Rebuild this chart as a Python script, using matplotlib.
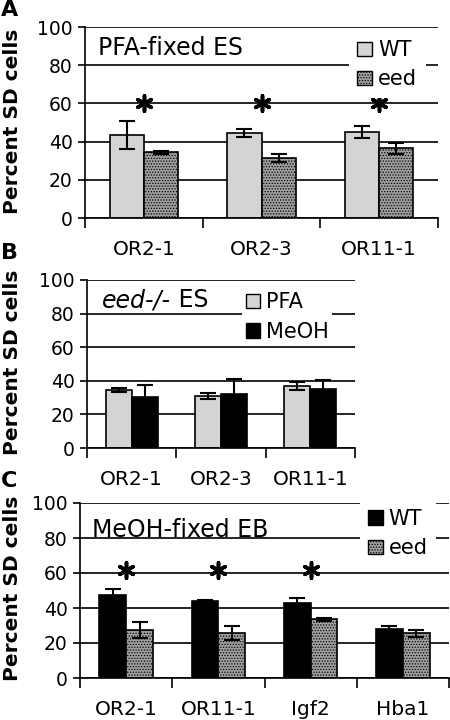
import matplotlib
matplotlib.use("Agg")
import matplotlib.pyplot as plt
from matplotlib.patches import Patch
import numpy as np

plt.rcParams['font.family'] = ['DejaVu Sans']
plt.rcParams['hatch.linewidth'] = 0.6

# panel A: PFA-fixed ES
genes_a = ["OR2-1", "OR2-3", "OR11-1"]
wt_a = [43.5, 44.5, 45.0]
wt_a_err = [7.5, 2.0, 3.0]
eed_a = [34.5, 31.5, 36.5]
eed_a_err = [0.8, 2.0, 3.0]
star_a = [True, True, True]
star_a_y = 60

# panel B: eed-/- ES
genes_b = ["OR2-1", "OR2-3", "OR11-1"]
pfa_b = [34.5, 31.0, 37.0]
pfa_b_err = [1.0, 2.0, 2.5]
meoh_b = [30.5, 32.0, 35.0]
meoh_b_err = [7.0, 9.0, 5.5]

# panel C: MeOH-fixed EB
genes_c = ["OR2-1", "OR11-1", "Igf2", "Hba1"]
wt_c = [47.5, 44.0, 43.0, 28.0]
wt_c_err = [3.5, 0.4, 2.5, 2.0]
eed_c = [27.5, 26.0, 33.5, 25.5]
eed_c_err = [4.5, 4.0, 1.0, 2.0]
star_c = [True, True, True, False]
star_c_y = 62

STYLES = {
    "light": dict(facecolor="#d4d4d4", hatch=None),
    "black": dict(facecolor="black", hatch=None),
    "dots": dict(facecolor="#a0a0a0", hatch="......"),
}
W = 0.29


def bars(ax, x, vals, err, style):
    st = STYLES[style]
    ax.bar(x, vals, W, facecolor=st["facecolor"], edgecolor="black",
           hatch=st["hatch"], linewidth=1.2, zorder=2)
    ax.errorbar(x, vals, yerr=err, fmt="none", ecolor="black",
                elinewidth=1.5, capsize=6, capthick=1.5, zorder=3)


def setup(ax, labels):
    n = len(labels)
    ax.set_xlim(-0.5, n - 0.5)
    ax.set_ylim(0, 100)
    ax.set_yticks(range(0, 101, 20))
    ax.set_xticks(np.arange(n))
    ax.set_xticklabels(labels)
    ax.set_xticks(np.arange(n + 1) - 0.5, minor=True)
    ax.tick_params(axis="x", which="major", length=0, pad=16, labelsize=14.5)
    ax.tick_params(axis="x", which="minor", length=7, width=1.2, direction="out")
    ax.tick_params(axis="y", length=5, width=1.2, pad=4, labelsize=13.5)
    ax.grid(axis="y", color="black", linewidth=1.2)
    ax.set_axisbelow(True)
    for s in ["top", "right"]:
        ax.spines[s].set_visible(False)
    ax.spines["left"].set_linewidth(1.2)
    ax.spines["bottom"].set_linewidth(1.2)


def stars(ax, x, flags, y):
    xs = [xi for xi, f in zip(x, flags) if f]
    ax.scatter(xs, [y] * len(xs), marker=(6, 2, 0), s=120, linewidths=2.6,
               color="black", zorder=4)


def legend(ax, names, styles, anchor, pad=0.4):
    handles = [Patch(facecolor=STYLES[s]["facecolor"], edgecolor="black",
                     hatch=STYLES[s]["hatch"], linewidth=1.0) for s in styles]
    lg = ax.legend(handles, names, loc="upper right", bbox_to_anchor=anchor,
                   fontsize=15, handlelength=0.7, handleheight=0.7,
                   handletextpad=0.3, labelspacing=0.45, borderpad=pad,
                   frameon=True, fancybox=False, framealpha=1,
                   edgecolor="none", facecolor="white", borderaxespad=0)
    lg.set_zorder(5)


fig = plt.figure(figsize=(4.5, 7.2), dpi=100)

# A
ax = fig.add_axes([85 / 450, 502 / 720, 353 / 450, 191 / 720])
x = np.arange(len(genes_a))
bars(ax, x - W / 2, wt_a, wt_a_err, "light")
bars(ax, x + W / 2, eed_a, eed_a_err, "dots")
stars(ax, x, star_a, star_a_y)
setup(ax, genes_a)
ax.text(0.037, 0.89, "PFA-fixed ES", transform=ax.transAxes, fontsize=17,
        va="center", ha="left", zorder=6)
legend(ax, ["WT", "eed"], ["light", "dots"], (0.965, 0.975))

# B
ax = fig.add_axes([87 / 450, 272 / 720, 268 / 450, 168 / 720])
x = np.arange(len(genes_b))
bars(ax, x - W / 2, pfa_b, pfa_b_err, "light")
bars(ax, x + W / 2, meoh_b, meoh_b_err, "black")
setup(ax, genes_b)
t = ax.text(0.056, 0.88, "eed-/-", transform=ax.transAxes, fontsize=17,
            style="italic", va="center", ha="left", zorder=6)
ax.annotate(" ES", xy=(1, 0), xycoords=t, fontsize=17, va="bottom",
            ha="left", zorder=6)
legend(ax, ["PFA", "MeOH"], ["light", "black"], (0.915, 0.945), pad=0.15)

# C
ax = fig.add_axes([80 / 450, 42 / 720, 369 / 450, 175 / 720])
x = np.arange(len(genes_c))
bars(ax, x - W / 2, wt_c, wt_c_err, "black")
bars(ax, x + W / 2, eed_c, eed_c_err, "dots")
stars(ax, x, star_c, star_c_y)
setup(ax, genes_c)
ax.text(0.032, 0.846, "MeOH-fixed EB", transform=ax.transAxes, fontsize=17,
        va="center", ha="left", zorder=6)
legend(ax, ["WT", "eed"], ["black", "dots"], (0.965, 1.015))

# y labels and panel letters
for yc in [121, 362, 588]:
    fig.text(13 / 450, 1 - yc / 720, "Percent SD cells", rotation=90,
             ha="center", va="center", fontsize=14.5, fontweight="bold")
for letter, yc in [("A", 10), ("B", 253), ("C", 481)]:
    fig.text(1 / 450, 1 - yc / 720, letter, ha="left", va="center",
             fontsize=16, fontweight="bold")

fig.savefig("out.png", dpi=100)
